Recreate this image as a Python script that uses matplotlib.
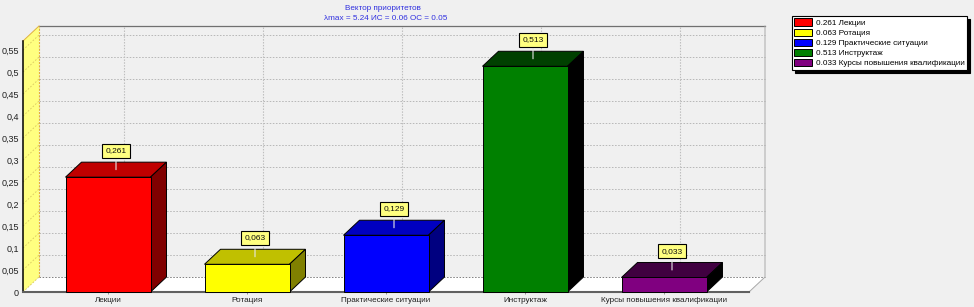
import matplotlib
matplotlib.use('Agg')
import matplotlib.pyplot as plt
from matplotlib.patches import Polygon, Patch

plt.rcParams['font.family'] = ['Liberation Sans', 'DejaVu Sans']

categories = ['Лекции', 'Ротация', 'Практические ситуации', 'Инструктаж', 'Курсы повышения квалификации']
values = [0.261, 0.063, 0.129, 0.513, 0.033]
mark_labels = ['0,261', '0,063', '0,129', '0,513', '0,033']
legend_values = ['0.261', '0.063', '0.129', '0.513', '0.033']
y_ticks = [0, 0.05, 0.1, 0.15, 0.2, 0.25, 0.3, 0.35, 0.4, 0.45, 0.5, 0.55]
y_tick_labels = ['0', '0,05', '0,1', '0,15', '0,2', '0,25', '0,3', '0,35', '0,4', '0,45', '0,5', '0,55']
front = ['#FF0000', '#FFFF00', '#0000FF', '#008000', '#800080']
top = ['#C00000', '#C0C000', '#0000C0', '#004000', '#400040']
side = ['#800000', '#808000', '#000080', '#000000', '#000000']

W, H = 974, 307
BG = '#F0F0F0'
fig = plt.figure(figsize=(W / 100, H / 100), dpi=100, facecolor=BG)
ax = fig.add_axes([23 / W, (H - 292) / H, 726 / W, 251 / H])
ax.set_facecolor('none')
x0, x1 = (23 - 108) / 139, (749 - 108) / 139
y1 = 251 / 440
ax.set_xlim(x0, x1)
ax.set_ylim(0, y1)
for s in ax.spines.values():
    s.set_visible(False)

dx, dy = 16 / 139, 15 / 440  # depth of the 3D projection
bw = 85 / 139

# floor, left wall
ax.add_patch(Polygon([(x0, 0), (x1, 0), (x1 + dx, dy), (x0 + dx, dy)], fc='white', ec='none', zorder=1, clip_on=False))
ax.add_patch(Polygon([(x0, 0), (x0, y1), (x0 + dx, y1 + dy), (x0 + dx, dy)], fc='#FFFF80', ec='none', zorder=1, clip_on=False))

# back-wall grid and wall diagonals
for t in y_ticks:
    if t > 0:
        ax.plot([x0 + dx, x1 + dx], [t + dy, t + dy], color='#B8B8B8', lw=0.7, ls=(0, (1.6, 1.6)), zorder=2, clip_on=False)
    ax.plot([x0, x0 + dx], [t, t + dy], color='#D8C860', lw=0.6, ls=(0, (2, 2)), zorder=2, clip_on=False)
ax.plot([x0 + dx, x1 + dx], [dy, dy], color='#808080', lw=0.7, ls=(0, (1.6, 1.6)), zorder=2, clip_on=False)
for i in range(len(categories)):
    ax.plot([i + dx, i + dx], [dy, y1 + dy], color='#BEBEBE', lw=0.8, ls=(0, (1.3, 1.3)), zorder=2, clip_on=False)

# frame
ax.plot([x0 + dx, x1 + dx], [y1 + dy, y1 + dy], color='#707070', lw=0.9, zorder=3, clip_on=False)
ax.plot([x1 + dx, x1 + dx, x1], [y1 + dy, dy, 0], color='#A8A8A8', lw=0.7, zorder=3, clip_on=False)
ax.plot([x0 + dx, x0 + dx], [dy, y1 + dy], color='#E0B040', lw=0.8, ls=(0, (2, 1)), zorder=3, clip_on=False)
ax.plot([x0, x0 + dx], [y1, y1 + dy], color='#E0B040', lw=0.7, zorder=3, clip_on=False)
ax.plot([x0, x0], [0, y1], color='black', lw=1.1, zorder=3, clip_on=False)
ax.plot([x0, x1], [0, 0], color='#606060', lw=1.5, zorder=3, clip_on=False)

# bars
for i, v in enumerate(values):
    l, r = i - bw / 2, i + bw / 2
    ax.add_patch(Polygon([(l, v), (r, v), (r + dx, v + dy), (l + dx, v + dy)], fc=top[i], ec='black', lw=0.7, zorder=5, clip_on=False))
    ax.add_patch(Polygon([(r, 0), (r, v), (r + dx, v + dy), (r + dx, dy)], fc=side[i], ec='black', lw=0.7, zorder=5, clip_on=False))
    ax.bar(i, v, width=bw, color=front[i], edgecolor='black', linewidth=0.7, zorder=6, clip_on=False)
    ax.annotate(mark_labels[i], xy=(i + dx / 2, v + dy / 2), xytext=(0, 13.5), textcoords='offset points',
                ha='center', va='center', fontsize=6.0, color='#101010', zorder=8, annotation_clip=False,
                bbox=dict(boxstyle='square,pad=0.42', fc='#FFFF80', ec='black', lw=0.8),
                arrowprops=dict(arrowstyle='-', color='#E8E8E8', lw=0.8, shrinkA=0, shrinkB=0))

ax.set_xticks(range(len(categories)))
ax.set_xticklabels(categories, fontsize=5.85, color='#202020')
ax.set_yticks(y_ticks)
ax.set_yticklabels(y_tick_labels, fontsize=6.5, color='#202020')
ax.tick_params(axis='y', length=0, pad=2.8)
ax.tick_params(axis='x', length=1.5, pad=2.0, color='#808080', width=0.6)

fig.text(383 / W, 1 - 8.5 / H, 'Вектор приоритетов', ha='center', va='center', fontsize=5.9, color='#3030E0')
fig.text(386 / W, 1 - 19 / H, 'λmax = 5.24 ИС = 0.06 ОС = 0.05', ha='center', va='center', fontsize=5.9, color='#3030E0')

handles = [Patch(fc=c, ec='black', lw=0.7) for c in front]
labels = [f'{a} {b}' for a, b in zip(legend_values, categories)]
leg = fig.legend(handles, labels, loc='upper left', bbox_to_anchor=(792 / W, 1 - 16 / H),
                 fontsize=5.9, frameon=True, fancybox=False, edgecolor='black', facecolor='white', framealpha=1,
                 shadow={'color': 'black', 'alpha': 1, 'ox': 2, 'oy': -2},
                 borderpad=0.3, labelspacing=0.22, handlelength=2.2, handleheight=0.95, handletextpad=0.37, borderaxespad=0)
leg.get_frame().set_linewidth(0.8)

fig.savefig('out.png', dpi=100, facecolor=BG)
